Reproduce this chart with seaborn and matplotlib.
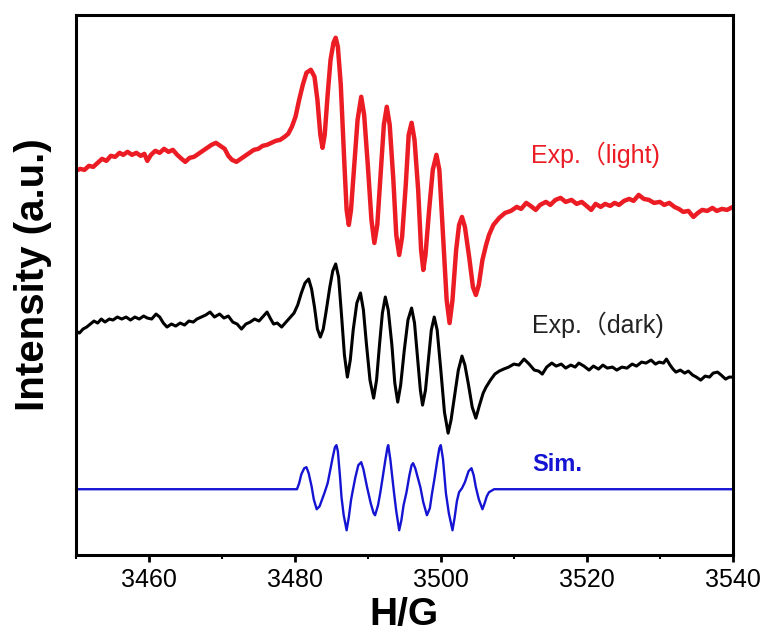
import numpy as np
import pandas as pd
import matplotlib
matplotlib.use('Agg')
import matplotlib.pyplot as plt
import seaborn as sns
from matplotlib.ticker import MultipleLocator

# field (G) and intensity (a.u.)
light_field = [3450.0, 3450.6, 3451.2, 3451.8, 3452.4, 3453.0, 3453.6, 3454.2, 3454.8, 3455.4,
               3456.0, 3456.5, 3457.1, 3457.7, 3458.3, 3458.9, 3459.4, 3459.8, 3460.3, 3460.9,
               3461.5, 3462.1, 3462.7, 3463.3, 3463.9, 3464.5, 3465.0, 3465.6, 3466.2, 3466.8,
               3467.4, 3468.0, 3468.6, 3469.2, 3469.8, 3470.4, 3470.9, 3471.4, 3472.0, 3472.6,
               3473.2, 3473.8, 3474.4, 3475.0, 3475.6, 3476.2, 3476.8, 3477.4, 3478.0, 3478.6,
               3479.1, 3479.6, 3480.1, 3480.6, 3481.1, 3481.6, 3482.2, 3482.7, 3483.1, 3483.5,
               3483.8, 3484.1, 3484.5, 3484.9, 3485.3, 3485.6, 3485.9, 3486.3, 3486.8, 3487.1,
               3487.4, 3487.7, 3488.1, 3488.6, 3489.1, 3489.5, 3490.0, 3490.5, 3490.9, 3491.3,
               3491.8, 3492.2, 3492.6, 3493.0, 3493.5, 3493.9, 3494.3, 3494.7, 3495.2, 3495.6,
               3496.0, 3496.4, 3496.9, 3497.3, 3497.6, 3497.9, 3498.4, 3498.9, 3499.4, 3499.8,
               3500.3, 3500.8, 3501.2, 3501.6, 3502.1, 3502.5, 3502.9, 3503.3, 3503.9, 3504.4,
               3504.8, 3505.2, 3505.7, 3506.2, 3506.6, 3507.2, 3508.0, 3508.8, 3509.6, 3510.4,
               3511.0, 3511.7, 3512.3, 3513.0, 3513.6, 3514.4, 3515.0, 3515.7, 3516.4, 3517.1,
               3517.9, 3518.6, 3519.3, 3519.8, 3520.6, 3521.2, 3521.9, 3522.5, 3523.2, 3523.8,
               3524.4, 3525.1, 3525.8, 3526.4, 3527.1, 3527.8, 3528.5, 3529.2, 3530.0, 3530.6,
               3531.3, 3532.0, 3532.6, 3533.2, 3533.9, 3534.6, 3535.2, 3535.8, 3536.5, 3537.2,
               3537.8, 3538.5, 3539.2, 3540.0]
light_int = [384, 386, 385, 389, 388, 392, 396, 394, 399, 398,
             402, 400, 403, 400, 402, 399, 401, 394, 400, 404,
             402, 406, 403, 405, 400, 396, 393, 397, 398, 401,
             404, 407, 410, 412, 409, 406, 399, 395, 393, 396,
             399, 402, 405, 406, 409, 410, 412, 414, 415, 418,
             421, 428, 438, 455, 470, 482, 485, 478, 455, 420,
             407, 420, 460, 495, 512, 517, 508, 470, 390, 345,
             330, 345, 385, 435, 458, 440, 390, 335, 312, 330,
             385, 430, 448, 430, 375, 320, 300, 318, 370, 420,
             432, 415, 365, 305, 285, 300, 345, 385, 400, 385,
             320, 255, 232, 255, 305, 330, 338, 328, 297, 268,
             260, 270, 295, 310, 320, 330, 337, 342, 344, 348,
             346, 352, 349, 345, 350, 353, 350, 355, 357, 353,
             355, 351, 353, 350, 345, 351, 348, 351, 349, 352,
             350, 354, 356, 354, 360, 356, 355, 352, 353, 350,
             352, 348, 346, 343, 344, 338, 342, 345, 344, 347,
             344, 346, 345, 348]

dark_field = [3450.0, 3450.5, 3451.0, 3451.5, 3452.0, 3452.5, 3453.0, 3453.5, 3454.0, 3454.6,
              3455.1, 3455.7, 3456.3, 3456.9, 3457.5, 3458.1, 3458.7, 3459.3, 3459.8, 3460.4,
              3461.0, 3461.5, 3462.0, 3462.5, 3463.1, 3463.7, 3464.3, 3464.9, 3465.5, 3466.1,
              3466.6, 3467.2, 3467.8, 3468.4, 3469.0, 3469.7, 3470.3, 3470.9, 3471.5, 3472.1,
              3472.7, 3473.3, 3473.9, 3474.5, 3475.1, 3475.7, 3476.2, 3476.7, 3477.1, 3477.6,
              3478.2, 3478.8, 3479.3, 3479.9, 3480.4, 3480.9, 3481.4, 3481.9, 3482.3, 3482.7,
              3483.1, 3483.5, 3483.9, 3484.3, 3484.8, 3485.2, 3485.6, 3486.0, 3486.4, 3486.8,
              3487.2, 3487.6, 3488.0, 3488.5, 3489.0, 3489.4, 3489.8, 3490.3, 3490.8, 3491.2,
              3491.6, 3492.0, 3492.4, 3492.8, 3493.3, 3493.7, 3494.1, 3494.5, 3495.0, 3495.5,
              3496.0, 3496.4, 3496.8, 3497.2, 3497.5, 3497.9, 3498.3, 3498.7, 3499.1, 3499.5,
              3500.0, 3500.5, 3501.0, 3501.4, 3501.9, 3502.4, 3502.9, 3503.3, 3503.8, 3504.3,
              3504.8, 3505.3, 3505.8, 3506.2, 3506.8, 3507.4, 3508.0, 3508.6, 3509.3, 3510.0,
              3510.7, 3511.4, 3512.1, 3512.8, 3513.4, 3513.9, 3514.5, 3515.2, 3515.8, 3516.5,
              3517.1, 3517.8, 3518.4, 3518.9, 3519.6, 3520.3, 3520.9, 3521.6, 3522.2, 3522.8,
              3523.5, 3524.1, 3524.8, 3525.5, 3526.2, 3526.8, 3527.5, 3528.1, 3528.8, 3529.4,
              3529.9, 3530.5, 3530.9, 3531.4, 3531.8, 3532.2, 3532.8, 3533.4, 3533.9, 3534.5,
              3535.0, 3535.6, 3536.2, 3536.8, 3537.3, 3537.9, 3538.4, 3539.0, 3539.5, 3540.0]
dark_int = [224, 222, 226, 228, 231, 234, 232, 236, 233, 236,
            235, 238, 236, 238, 235, 238, 236, 239, 237, 236,
            241, 238, 232, 228, 231, 229, 232, 230, 234, 233,
            236, 238, 240, 243, 238, 241, 237, 239, 233, 231,
            226, 231, 233, 236, 234, 239, 243, 236, 231, 232,
            228, 233, 237, 242, 250, 262, 272, 276, 266, 248,
            226, 218, 226, 244, 268, 284, 291, 278, 240, 200,
            178, 195, 225, 252, 262, 245, 212, 175, 157, 175,
            210, 242, 258, 245, 210, 172, 153, 170, 205, 235,
            247, 232, 198, 165, 150, 165, 195, 225, 238, 225,
            185, 143, 122, 135, 160, 185, 199, 190, 170, 148,
            137, 150, 162, 168, 175, 181, 184, 186, 188, 191,
            190, 196, 191, 185, 184, 181, 188, 192, 189, 191,
            187, 190, 188, 192, 189, 185, 189, 186, 190, 187,
            188, 185, 188, 187, 191, 189, 193, 192, 195, 191,
            193, 192, 196, 190, 186, 183, 185, 182, 184, 180,
            178, 175, 179, 178, 182, 183, 180, 176, 178, 178]

sim_field = [3450.0, 3480.3, 3480.6, 3480.9, 3481.3, 3481.6, 3481.9, 3482.3, 3482.6, 3483.0,
             3483.4, 3483.8, 3484.1, 3484.5, 3484.8, 3485.2, 3485.5, 3485.7, 3485.9, 3486.2,
             3486.4, 3486.7, 3487.1, 3487.4, 3487.7, 3487.9, 3488.3, 3488.7, 3489.1, 3489.4,
             3489.9, 3490.4, 3490.8, 3491.0, 3491.4, 3491.7, 3492.0, 3492.4, 3492.7, 3492.8,
             3493.1, 3493.4, 3493.6, 3493.9, 3494.3, 3494.6, 3494.9, 3495.3, 3495.7, 3496.0,
             3496.2, 3496.5, 3497.2, 3497.6, 3498.1, 3498.5, 3498.8, 3499.1, 3499.5, 3499.8,
             3500.0, 3500.3, 3500.7, 3501.1, 3501.6, 3501.9, 3502.2, 3502.5, 3502.9, 3503.3,
             3503.8, 3504.2, 3504.5, 3504.8, 3505.2, 3505.7, 3506.0, 3506.3, 3506.6, 3507.3,
             3540.0]
sim_int = [66, 66, 72, 81, 87, 88, 82, 69, 56, 46,
           49, 57, 63, 72, 83, 98, 108, 110, 104, 78,
           58, 40, 25, 38, 55, 63, 78, 90, 93, 86,
           68, 52, 42, 40, 50, 62, 76, 95, 108, 110,
           95, 75, 62, 44, 25, 35, 50, 63, 80, 90,
           92, 87, 68, 53, 40, 47, 62, 75, 94, 107,
           110, 96, 62, 42, 25, 38, 54, 63, 67, 73,
           84, 87, 80, 68, 56, 46, 52, 59, 63, 66,
           66]

labels = ['Exp.（light)', 'Exp.（dark)', 'Sim.']
colors = ['#ec1c24', '#000000', '#1414d2']

sns.set_style('ticks')
plt.rcParams['font.family'] = ['Liberation Sans', 'Noto Sans CJK SC', 'DejaVu Sans']
plt.rcParams['text.color'] = 'black'
plt.rcParams['axes.labelcolor'] = 'black'
plt.rcParams['xtick.color'] = 'black'

fig = plt.figure(figsize=(7.65, 6.39), dpi=100)
ax = fig.add_axes([0.099, 0.131, 0.859, 0.846])

light = pd.DataFrame({'H': light_field, 'I': light_int})
dark = pd.DataFrame({'H': dark_field, 'I': dark_int})
sim = pd.DataFrame({'H': sim_field, 'I': sim_int})

sns.lineplot(data=light, x='H', y='I', color=colors[0], lw=3.2, estimator=None, sort=False, ax=ax)
sns.lineplot(data=dark, x='H', y='I', color=colors[1], lw=2.2, estimator=None, sort=False, ax=ax)
sns.lineplot(data=sim, x='H', y='I', color=colors[2], lw=1.7, estimator=None, sort=False, ax=ax)

ax.text(3512.4, 400, labels[0], color=colors[0], fontsize=18, va='center')
ax.text(3512.5, 230, labels[1], color='#222222', fontsize=18, va='center')
ax.text(3512.5, 91, labels[2], color=colors[2], fontsize=17, fontweight='bold', va='center')

ax.set_xlim(3450, 3540)
ax.set_ylim(0, 540)
ax.xaxis.set_major_locator(MultipleLocator(20))
ax.xaxis.set_minor_locator(MultipleLocator(10))
ax.set_yticks([])
ax.tick_params(axis='x', which='major', length=5, width=2, direction='out', labelsize=18, pad=4,
               colors='black')
ax.tick_params(axis='x', which='minor', length=3, width=1.5, direction='out', colors='black')
for s in ax.spines.values():
    s.set_linewidth(2.2)
    s.set_color('black')

ax.set_xlabel('H/G', fontsize=28, fontweight='bold', labelpad=4)
ax.set_ylabel('Intensity (a.u.)', fontsize=29, fontweight='bold')
ax.yaxis.set_label_coords(-0.036, 0.52)

fig.savefig('out.png', dpi=100)
